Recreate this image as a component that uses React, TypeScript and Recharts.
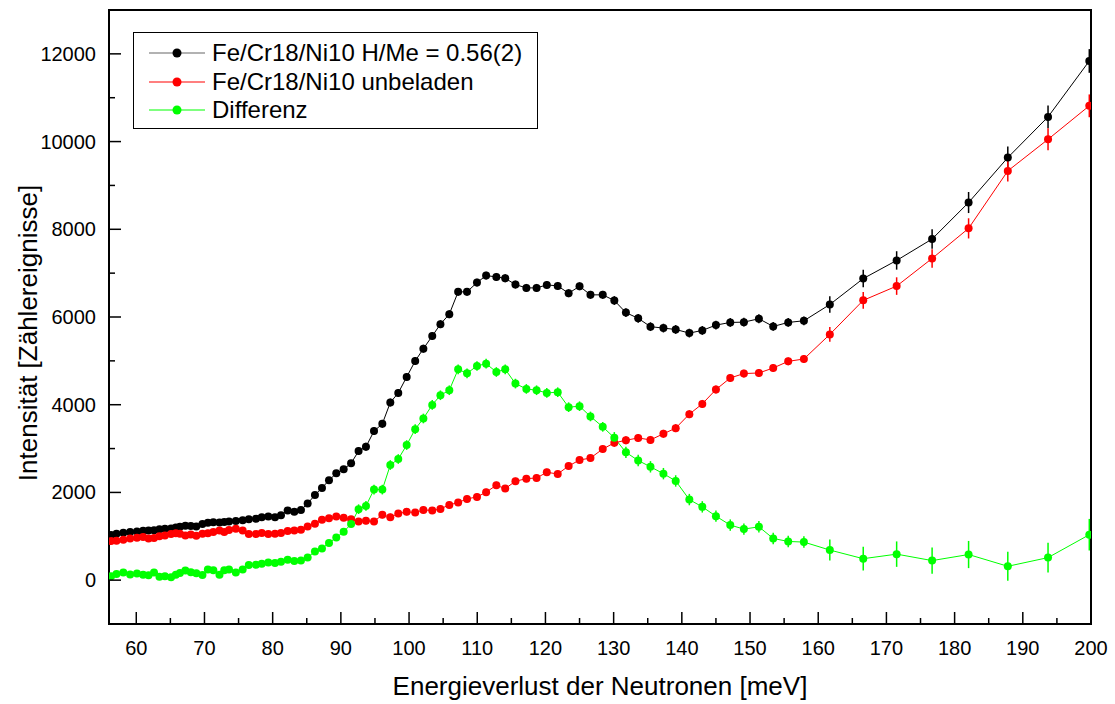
import { LineChart, Line, XAxis, YAxis, ErrorBar, ReferenceArea, Label } from 'recharts'

const FONT = '"Liberation Sans", Arial, sans-serif'

// Energieverlust [meV]
const energy = [
  56.3, 57.1, 58.1, 59.1, 60.1, 61.0, 61.8, 62.6, 63.4, 64.2,
  65.1, 65.8, 66.4, 67.2, 68.0, 68.8, 69.7, 70.5, 71.3, 72.2,
  72.9, 73.6, 74.6, 75.6, 76.5, 77.55, 78.4, 79.36, 80.34, 81.22,
  82.2, 83.17, 84.15, 85.13, 86.2, 87.23, 88.26, 89.33, 90.41, 91.5,
  92.6, 93.68, 94.86, 96.08, 97.25, 98.42, 99.65, 100.9, 102.1, 103.4,
  104.6, 105.9, 107.2, 108.5, 109.96, 111.3, 112.8, 114.1, 115.6, 117.2,
  118.7, 120.2, 121.8, 123.4, 125.0, 126.6, 128.4, 130.1, 131.8, 133.6,
  135.4, 137.3, 139.1, 141.1, 143.0, 145.0, 147.1, 149.1, 151.3, 153.4,
  155.6, 157.9, 161.7, 166.6, 171.5, 176.7, 182.05, 187.8, 193.7, 199.75,
]

// Fe/Cr18/Ni10 H/Me = 0.56(2)
const beladen = [
  1030, 1060, 1080, 1100, 1110, 1125, 1130, 1140, 1160, 1170,
  1180, 1200, 1220, 1240, 1235, 1225, 1280, 1310, 1320, 1315,
  1325, 1335, 1350, 1365, 1390, 1398, 1436, 1451, 1436, 1482,
  1587, 1557, 1602, 1746, 1943, 2103, 2277, 2436, 2527, 2664,
  2943, 3041, 3398, 3564, 4050, 4269, 4632, 4996, 5278, 5565,
  5837, 6064, 6573, 6573, 6785, 6944, 6914, 6883, 6739, 6664,
  6664, 6732, 6709, 6542, 6701, 6505, 6505, 6376, 6100, 5970,
  5780, 5747, 5716, 5633, 5694, 5815, 5876, 5883, 5960, 5785,
  5876, 5914, 6285, 6876, 7290, 7778, 8610, 9635, 10563, 11838,
]
const beladenErr = [
  40, 40, 40, 40, 40, 40, 40, 40, 40, 40,
  40, 40, 40, 40, 40, 40, 40, 40, 40, 40,
  40, 40, 40, 40, 40, 40, 40, 40, 40, 40,
  40, 40, 40, 40, 40, 40, 40, 40, 40, 40,
  90, 90, 90, 90, 90, 90, 90, 90, 90, 90,
  90, 90, 90, 90, 90, 90, 90, 90, 90, 90,
  90, 90, 90, 90, 90, 90, 90, 100, 100, 100,
  100, 100, 100, 100, 100, 100, 100, 100, 100, 100,
  100, 100, 190, 200, 210, 220, 240, 250, 260, 270,
]

// Fe/Cr18/Ni10 unbeladen
const unbeladen = [
  890, 900, 920, 950, 965, 985, 950, 960, 1000, 1020,
  1050, 1070, 1055, 1020, 1040, 1010, 1060, 1070, 1095, 1130,
  1100, 1145, 1170, 1130, 1050, 1050, 1073, 1050, 1057, 1073,
  1118, 1132, 1148, 1223, 1284, 1375, 1414, 1451, 1421, 1391,
  1337, 1352, 1337, 1489, 1436, 1518, 1557, 1541, 1602, 1587,
  1625, 1716, 1769, 1852, 1898, 2005, 2164, 2087, 2255, 2314,
  2330, 2459, 2421, 2603, 2739, 2784, 2989, 3130, 3190, 3242,
  3198, 3337, 3466, 3785, 4019, 4346, 4610, 4710, 4724, 4837,
  4989, 5042, 5603, 6380, 6705, 7335, 8021, 9331, 10051, 10815,
]
const unbeladenErr = [
  40, 40, 40, 40, 40, 40, 40, 40, 40, 40,
  40, 40, 40, 40, 40, 40, 40, 40, 40, 40,
  40, 40, 40, 40, 40, 40, 40, 40, 40, 40,
  40, 40, 40, 40, 40, 40, 40, 40, 40, 40,
  80, 80, 80, 80, 80, 80, 80, 80, 80, 80,
  80, 80, 80, 80, 80, 80, 80, 80, 80, 80,
  80, 80, 80, 80, 80, 80, 80, 90, 90, 90,
  90, 90, 90, 90, 90, 90, 90, 90, 90, 90,
  90, 90, 170, 190, 200, 210, 230, 240, 250, 260,
]

// Differenz
const differenz = [
  90, 140, 175, 130, 150, 125, 110, 175, 75, 90,
  65, 125, 165, 220, 180, 155, 120, 240, 225, 125,
  225, 240, 175, 240, 345, 350, 375, 405, 391, 420,
  466, 436, 450, 518, 655, 723, 846, 973, 1102, 1280,
  1618, 1693, 2064, 2064, 2625, 2762, 3080, 3443, 3686, 3996,
  4216, 4330, 4807, 4716, 4883, 4936, 4746, 4807, 4482, 4360,
  4330, 4269, 4285, 3944, 3966, 3732, 3496, 3246, 2914, 2728,
  2584, 2428, 2262, 1837, 1671, 1459, 1255, 1164, 1216, 950,
  882, 868, 686, 489, 593, 446, 584, 316, 514, 1036,
]
const differenzErr = [
  60, 60, 60, 60, 60, 60, 60, 60, 60, 60,
  60, 60, 60, 60, 60, 60, 60, 60, 60, 60,
  60, 60, 60, 60, 60, 60, 60, 60, 60, 60,
  60, 60, 60, 60, 60, 60, 60, 60, 60, 60,
  110, 110, 110, 110, 110, 110, 110, 110, 110, 110,
  110, 110, 110, 110, 110, 110, 110, 110, 110, 110,
  110, 110, 110, 110, 110, 110, 110, 130, 130, 130,
  130, 130, 130, 130, 130, 130, 130, 130, 130, 130,
  130, 130, 240, 270, 290, 300, 310, 330, 340, 360,
]

const xTicks = [
  60, 65, 70, 75, 80, 85, 90, 95, 100, 105, 110, 115, 120, 125, 130,
  135, 140, 145, 150, 155, 160, 165, 170, 175, 180, 185, 190, 195, 200,
]
const yTicks = [0, 1000, 2000, 3000, 4000, 5000, 6000, 7000, 8000, 9000, 10000, 11000, 12000]

const series = [
  { key: 'beladen', name: 'Fe/Cr18/Ni10 H/Me = 0.56(2)', color: '#000000', legendLine: '#666666' },
  { key: 'unbeladen', name: 'Fe/Cr18/Ni10 unbeladen', color: '#ff0000', legendLine: '#ff0000' },
  { key: 'differenz', name: 'Differenz', color: '#00ff00', legendLine: '#00ff00' },
]

const data = energy.map((e, i) => ({
  e,
  beladen: beladen[i],
  beladenErr: beladenErr[i],
  unbeladen: unbeladen[i],
  unbeladenErr: unbeladenErr[i],
  differenz: differenz[i],
  differenzErr: differenzErr[i],
}))

function BottomTick(props: any) {
  const { x, y, payload } = props
  const major = payload.value % 10 === 0
  return (
    <g>
      <line x1={x} x2={x} y1={y} y2={y - (major ? 12 : 6)} stroke="#000" strokeWidth={1.5} />
      {major && (
        <text x={x} y={y + 31} textAnchor="middle" fontSize={20} fontFamily={FONT} fill="#000">
          {payload.value}
        </text>
      )}
    </g>
  )
}

function LeftTick(props: any) {
  const { x, y, payload } = props
  const major = payload.value % 2000 === 0
  return (
    <g>
      <line x1={x} x2={x + (major ? 12 : 6)} y1={y} y2={y} stroke="#000" strokeWidth={1.5} />
      {major && (
        <text x={x - 13} y={y + 7} textAnchor="end" fontSize={20} fontFamily={FONT} fill="#000">
          {payload.value}
        </text>
      )}
    </g>
  )
}

function LegendBox() {
  return (
    <div
      style={{
        position: 'absolute',
        left: 133,
        top: 32,
        width: 405,
        height: 97,
        boxSizing: 'border-box',
        border: '1px solid #000',
        background: '#fff',
        paddingTop: 6,
      }}
    >
      {series.map(s => (
        <div key={s.key} style={{ display: 'flex', alignItems: 'center', height: 28.5 }}>
          <svg width={78} height={20} style={{ flex: 'none' }}>
            <line x1={15} x2={71} y1={10} y2={10} stroke={s.legendLine} strokeWidth={1.2} />
            <circle cx={43} cy={10} r={4.5} fill={s.color} />
          </svg>
          <span style={{ fontFamily: FONT, fontSize: 24, color: '#000', whiteSpace: 'nowrap', lineHeight: '28px' }}>
            {s.name}
          </span>
        </div>
      ))}
    </div>
  )
}

export default function App() {
  return (
    <div style={{ position: 'absolute', left: 0, top: 0, width: 1115, height: 704, background: '#fff' }}>
      <LineChart width={1115} height={704} data={data} margin={{ top: 10, right: 24, bottom: 0, left: 0 }}>
        <XAxis
          dataKey="e"
          type="number"
          domain={[56, 200]}
          ticks={xTicks}
          interval={0}
          allowDataOverflow
          height={80}
          tickSize={0}
          tickMargin={0}
          tickLine={false}
          axisLine={{ stroke: '#000', strokeWidth: 2 }}
          tick={(p: any) => <BottomTick {...p} />}
        >
          <Label
            content={() => (
              <text x={600} y={695} textAnchor="middle" fontSize={26} fontFamily={FONT} fill="#000">
                Energieverlust der Neutronen [meV]
              </text>
            )}
          />
        </XAxis>
        <YAxis
          type="number"
          domain={[-1000, 13000]}
          ticks={yTicks}
          interval={0}
          allowDataOverflow
          width={109}
          tickSize={0}
          tickMargin={0}
          tickLine={false}
          axisLine={{ stroke: '#000', strokeWidth: 2 }}
          tick={(p: any) => <LeftTick {...p} />}
        >
          <Label
            content={() => (
              <text
                transform="translate(37, 333) rotate(-90)"
                textAnchor="middle"
                fontSize={26}
                fontFamily={FONT}
                fill="#000"
              >
                Intensität [Zählereignisse]
              </text>
            )}
          />
        </YAxis>
        <ReferenceArea x1={56} x2={200} y1={-1000} y2={13000} fill="none" stroke="#000" strokeWidth={2} />
        {series.map(s => (
          <Line
            key={s.key}
            dataKey={s.key}
            type="linear"
            stroke={s.color}
            strokeWidth={1}
            dot={{ r: 4, fill: s.color, stroke: 'none' }}
            activeDot={false}
            isAnimationActive={false}
          >
            <ErrorBar dataKey={`${s.key}Err`} width={0} stroke={s.color} strokeWidth={1.5} direction="y" />
          </Line>
        ))}
      </LineChart>
      <LegendBox />
    </div>
  )
}
